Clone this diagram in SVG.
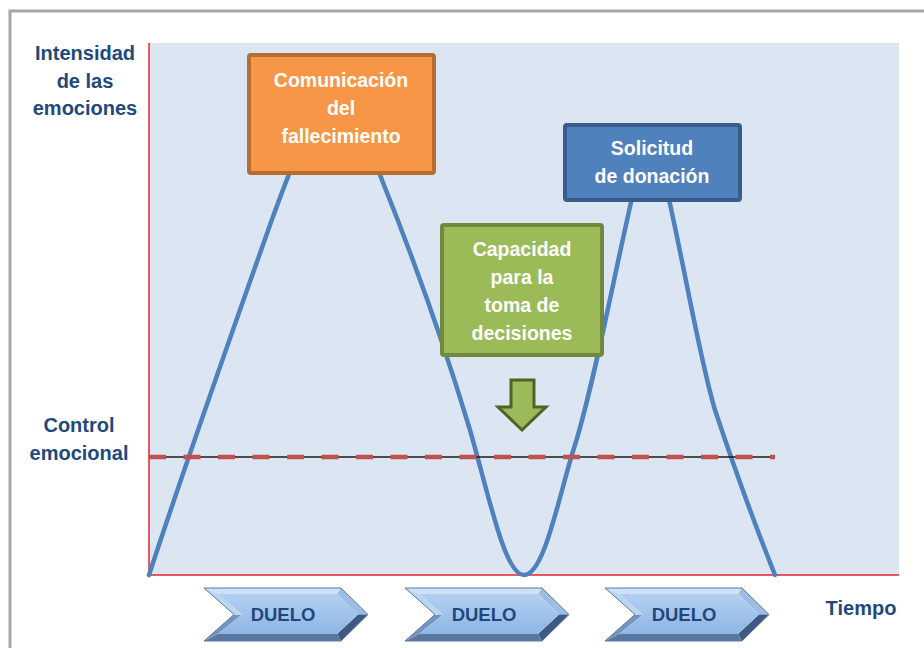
<svg xmlns="http://www.w3.org/2000/svg" width="924" height="648" viewBox="0 0 924 648">
  <defs>
    <linearGradient id="chevIn" x1="0" y1="0" x2="0" y2="1">
      <stop offset="0" stop-color="#b3d0f1"/>
      <stop offset="1" stop-color="#8fb5e4"/>
    </linearGradient>
    <g id="chevShape">
      <polygon points="0,0 137,0 133,6 14,6" fill="#cfe1f6"/>
      <polygon points="137,0 164,26.5 154,26.5 133,6" fill="#9dbde4"/>
      <polygon points="164,26.5 137,53 133,46 154,26.5" fill="#3e5a82"/>
      <polygon points="137,53 0,53 14,46 133,46" fill="#5a789f"/>
      <polygon points="0,53 30,26.5 38,26.5 14,46" fill="#7493bd"/>
      <polygon points="30,26.5 0,0 14,6 38,26.5" fill="#bcd5f1"/>
      <polygon points="14,6 133,6 154,26.5 133,46 14,46 38,26.5" fill="url(#chevIn)"/>
      <polygon points="0,0 137,0 164,26.5 137,53 0,53 30,26.5" fill="none" stroke="#5b7aa3" stroke-width="1"/>
    </g>
    <style>
      .lbl { font-family: "Liberation Sans", Arial, sans-serif; font-weight: bold; font-size: 20px; fill: #1f497d; text-anchor: middle; }
      .btxt { font-family: "Liberation Sans", Arial, sans-serif; font-weight: bold; font-size: 19.5px; fill: #ffffff; text-anchor: middle; }
      .duelo { font-family: "Liberation Sans", Arial, sans-serif; font-weight: bold; font-size: 18.5px; fill: #1f497d; text-anchor: middle; }
      .axis { stroke: #e3262b; stroke-width: 1.5; fill: none; }
      .curve { stroke: #4f81bd; stroke-width: 4.5; fill: none; stroke-linecap: round; stroke-linejoin: round; }
    </style>
  </defs>

  <rect x="0" y="0" width="924" height="648" fill="#ffffff"/>
  <!-- frame -->
  <path d="M10,648 L10,11 L924,11" fill="none" stroke="#a6a6a6" stroke-width="3"/>

  <!-- plot area -->
  <rect x="149" y="43" width="750" height="532" fill="#dce6f2"/>
  <line class="axis" x1="149" y1="43" x2="149" y2="575"/>
  <line class="axis" x1="149" y1="575" x2="899" y2="575"/>

  <!-- labels -->
  <g id="label-intensidad">
    <text class="lbl" x="85" y="60">Intensidad</text>
    <text class="lbl" x="85" y="88">de las</text>
    <text class="lbl" x="85" y="115">emociones</text>
  </g>
  <g id="label-control">
    <text class="lbl" x="79" y="432">Control</text>
    <text class="lbl" x="79" y="460">emocional</text>
  </g>
  <g id="label-tiempo">
    <text class="lbl" x="861" y="615">Tiempo</text>
  </g>

  <!-- connectors: emotion curve and control line -->
  <g id="connectors">
    <path class="curve" d="M149,575 C190,450 240,310 270,225 C290,170 310,110 336,110 C360,110 370,150 382,180 C410,250 440,330 470,430 C490,500 505,575 524,575 C545,575 560,490 575,445 C595,380 615,270 635,185 C640,160 645,150 650,150 C655,150 660,160 668,195 C685,270 700,360 715,410 C735,470 755,525 775,575"/>
    <line x1="149" y1="457" x2="775" y2="457" stroke="#1a1a1a" stroke-width="1.3"/>
    <line x1="149" y1="457" x2="775" y2="457" stroke="#c0504d" stroke-width="4.5" stroke-dasharray="17 17.5"/>
  </g>

  <!-- boxes -->
  <g id="box-comunicacion">
    <rect x="249" y="55" width="185" height="118" rx="2" fill="#f79646" stroke="#b66d31" stroke-width="4"/>
    <text class="btxt" x="341" y="87">Comunicación</text>
    <text class="btxt" x="341" y="115">del</text>
    <text class="btxt" x="341" y="143">fallecimiento</text>
  </g>
  <g id="box-capacidad">
    <rect x="442" y="225" width="160" height="130" rx="2" fill="#9bbb59" stroke="#71893f" stroke-width="4"/>
    <text class="btxt" x="522" y="256">Capacidad</text>
    <text class="btxt" x="522" y="284">para la</text>
    <text class="btxt" x="522" y="312">toma de</text>
    <text class="btxt" x="522" y="340">decisiones</text>
  </g>
  <g id="box-solicitud">
    <rect x="565" y="125" width="175" height="75" rx="2" fill="#4f81bd" stroke="#385d8a" stroke-width="4"/>
    <text class="btxt" x="652" y="155">Solicitud</text>
    <text class="btxt" x="652" y="183">de donación</text>
  </g>

  <!-- down arrow -->
  <g id="arrow-down">
    <polygon points="511,380 534,380 534,407 546,407 522,430 498,407 511,407" fill="#9bbb59" stroke="#4f6228" stroke-width="3" stroke-linejoin="miter"/>
  </g>

  <!-- DUELO chevrons -->
  <g id="duelo-1">
    <use href="#chevShape" x="204" y="588"/>
    <text class="duelo" x="283" y="621">DUELO</text>
  </g>
  <g id="duelo-2">
    <use href="#chevShape" x="405" y="588"/>
    <text class="duelo" x="484" y="621">DUELO</text>
  </g>
  <g id="duelo-3">
    <use href="#chevShape" x="605" y="588"/>
    <text class="duelo" x="684" y="621">DUELO</text>
  </g>
</svg>
